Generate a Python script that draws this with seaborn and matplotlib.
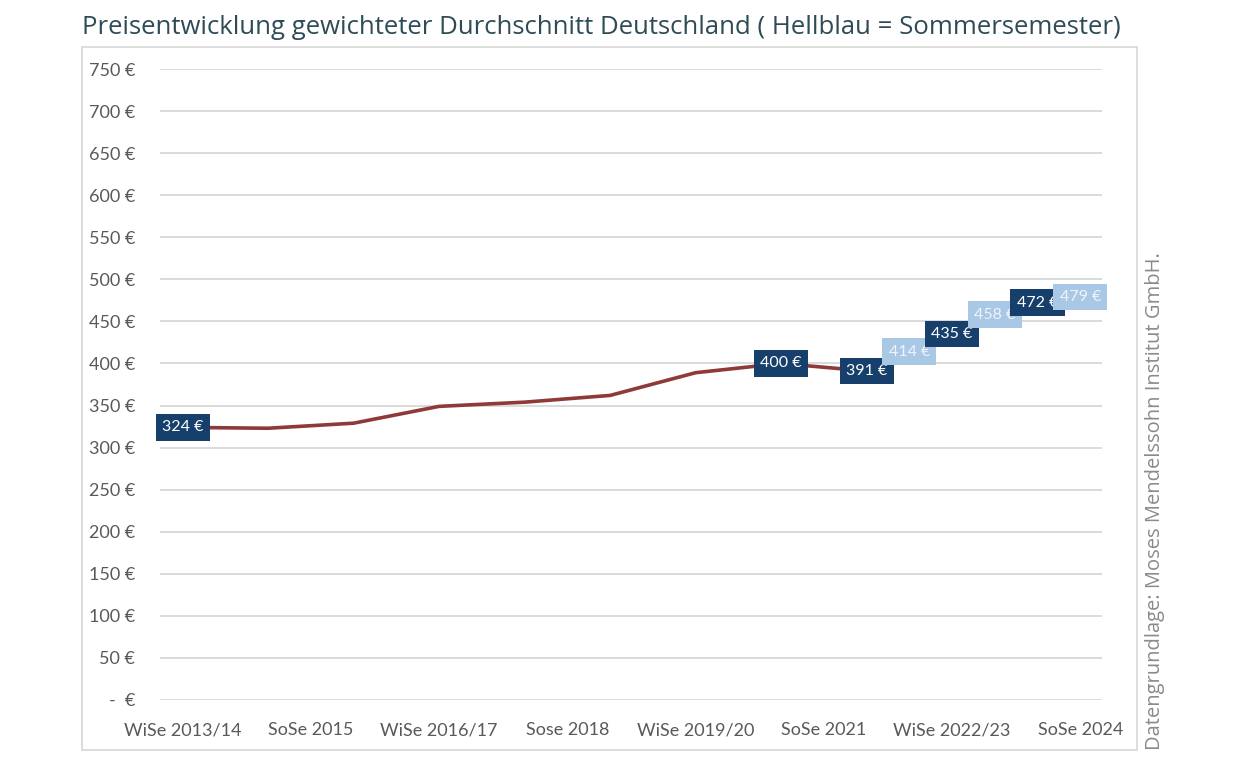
"""
Preisentwicklung WG-Zimmer, gewichteter Durchschnitt Deutschland
- Linie (dunkelrot) ueber alle Semester
- Datenlabels: WiSe dunkelblau, SoSe hellblau
"""

import pandas as pd
import matplotlib.pyplot as plt
from matplotlib.patches import Rectangle
import seaborn as sns

# ── Daten ──────────────────────────────────────────────
SEMESTERS = [
    'WiSe 2013/14', 'SoSe 2014', 'WiSe 2014/15', 'SoSe 2015',
    'WiSe 2015/16', 'SoSe 2016', 'WiSe 2016/17', 'SoSe 2017',
    'WiSe 2017/18', 'SoSe 2018', 'WiSe 2018/19', 'SoSe 2019',
    'WiSe 2019/20', 'SoSe 2020', 'WiSe 2020/21', 'SoSe 2021',
    'WiSe 2021/22', 'SoSe 2022', 'WiSe 2022/23', 'SoSe 2023',
    'WiSe 2023/24', 'SoSe 2024',
]
TICK_SEMESTERS = ['WiSe 2013/14', 'SoSe 2015', 'WiSe 2016/17', 'SoSe 2018',
                  'WiSe 2019/20', 'SoSe 2021', 'WiSe 2022/23', 'SoSe 2024']
TICK_LABELS    = ['WiSe 2013/14', 'SoSe 2015', 'WiSe 2016/17', 'Sose 2018',
                  'WiSe 2019/20', 'SoSe 2021', 'WiSe 2022/23', 'SoSe 2024']

data_semesters = ['WiSe 2013/14', 'WiSe 2014/15', 'WiSe 2015/16', 'WiSe 2016/17',
                  'WiSe 2017/18', 'WiSe 2018/19', 'WiSe 2019/20', 'WiSe 2020/21',
                  'WiSe 2021/22', 'SoSe 2022', 'WiSe 2022/23', 'SoSe 2023',
                  'WiSe 2023/24', 'SoSe 2024']
prices         = [324, 323, 329, 349, 354, 362, 389, 400, 391, 414, 435, 458, 472, 479]
labelled       = ['WiSe 2013/14', 'WiSe 2020/21', 'WiSe 2021/22', 'SoSe 2022',
                  'WiSe 2022/23', 'SoSe 2023', 'WiSe 2023/24', 'SoSe 2024']

Y_TICKS = list(range(0, 751, 50))

LINE_COLOR = '#8e3a3a'
WISE_COLOR = '#173f6c'
SOSE_COLOR = '#a9c8e6'
GRID_COLOR = '#dadada'
TEXT_GRAY  = '#595959'

df = pd.DataFrame({'semester': data_semesters, 'price': prices})
df['pos'] = df['semester'].map(SEMESTERS.index)

# ── Plot ───────────────────────────────────────────────
sns.set_theme(style='white')
plt.rcParams['font.family'] = ['Lato', 'DejaVu Sans']

fig = plt.figure(figsize=(12.42, 7.65), dpi=100)
ax = fig.add_axes([0.1288, 0.085, 0.887 - 0.1288, 0.9098 - 0.085])

sns.lineplot(data=df, x='pos', y='price', ax=ax, color=LINE_COLOR,
             linewidth=2.6, zorder=3)

for _, row in df[df['semester'].isin(labelled)].iterrows():
    is_sose = row['semester'].startswith('SoSe')
    ax.text(row['pos'], row['price'], f"{row['price']} €",
            ha='center', va='center', fontsize=11.5,
            color='#eef4fa' if is_sose else 'white', zorder=5,
            bbox=dict(boxstyle='square,pad=0.4',
                      facecolor=SOSE_COLOR if is_sose else WISE_COLOR,
                      edgecolor='none'))

ax.set_xlim(-0.53, 21.5)
ax.set_ylim(0, 750)
ax.set_yticks(Y_TICKS)
ax.set_yticklabels(['-  €' if v == 0 else f'{v} €' for v in Y_TICKS])
ax.set_xticks([SEMESTERS.index(s) for s in TICK_SEMESTERS])
ax.set_xticklabels(TICK_LABELS)
ax.tick_params(axis='both', labelsize=13, colors=TEXT_GRAY, length=0)
ax.tick_params(axis='y', pad=18)
ax.tick_params(axis='x', pad=16)
ax.set_xlabel('')
ax.set_ylabel('')
ax.grid(axis='y', color=GRID_COLOR, linewidth=1.4)
ax.set_axisbelow(True)
sns.despine(ax=ax, left=True, bottom=True)

# ── Rahmen, Titel, Quelle ──────────────────────────────
fig.patches.append(Rectangle((82 / 1242, 1 - 750 / 765), (1137 - 82) / 1242,
                             (750 - 47) / 765, transform=fig.transFigure,
                             fill=False, edgecolor=GRID_COLOR, linewidth=1.3))

fig.text(82 / 1242, 1 - 28 / 765,
         'Preisentwicklung gewichteter Durchschnitt Deutschland ( Hellblau = Sommersemester)',
         ha='left', va='center', fontsize=18.5, color='#2e4b56', family='Open Sans')
fig.text(1155 / 1242, 1 - 750 / 765,
         'Datengrundlage: Moses Mendelssohn Institut GmbH.',
         rotation=90, ha='center', va='bottom', fontsize=14.5,
         color='#8a8a8a', family='Open Sans')

plt.savefig('out.png', dpi=100)
